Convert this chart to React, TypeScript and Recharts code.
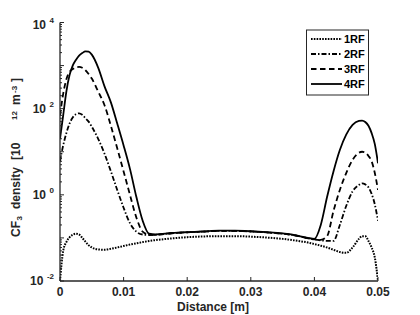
import React from 'react';
import { LineChart, Line, XAxis, YAxis } from 'recharts';

const distance = [
  0, 0.0005, 0.001, 0.0015, 0.002, 0.0025, 0.003, 0.0035, 0.004, 0.0045,
  0.005, 0.006, 0.007, 0.008, 0.009, 0.01, 0.011, 0.012, 0.013, 0.014,
  0.015, 0.0175, 0.02, 0.0225, 0.025, 0.0275, 0.03, 0.0325, 0.035, 0.0375,
  0.039, 0.04, 0.041, 0.042, 0.043, 0.044, 0.045, 0.046, 0.047, 0.0475,
  0.048, 0.0485, 0.049, 0.0495, 0.05,
];

const rf1 = [
  0.01, 0.05, 0.08, 0.103, 0.118, 0.125, 0.12, 0.1, 0.082, 0.068,
  0.06, 0.054, 0.053, 0.056, 0.06, 0.065, 0.07, 0.075, 0.08, 0.085,
  0.089, 0.097, 0.104, 0.108, 0.11, 0.11, 0.107, 0.102, 0.095, 0.085,
  0.078, 0.072, 0.066, 0.06, 0.053, 0.047, 0.045, 0.06, 0.095, 0.11,
  0.11, 0.085, 0.06, 0.035, 0.01,
];

const rf2 = [
  6, 14, 27, 45, 62, 74, 78, 72, 60, 50,
  38, 20, 9, 3.5, 1.3, 0.5, 0.22, 0.14, 0.12, 0.117,
  0.118, 0.128, 0.135, 0.14, 0.145, 0.145, 0.141, 0.134, 0.125, 0.11,
  0.098, 0.092, 0.088, 0.085, 0.085, 0.2, 0.55, 1.2, 1.7, 1.85,
  1.75, 1.5, 1.05, 0.6, 0.25,
];

const rf3 = [
  70, 220, 480, 710, 830, 910, 930, 890, 780, 640,
  500, 250, 120, 40, 12, 3.5, 1, 0.3, 0.14, 0.12,
  0.118, 0.128, 0.135, 0.14, 0.145, 0.145, 0.141, 0.134, 0.125, 0.11,
  0.098, 0.093, 0.09, 0.11, 0.42, 1.3, 3.2, 6.5, 9.5, 10,
  9.5, 8, 6, 3.2, 1.3,
];

const rf4 = [
  20, 70, 250, 600, 1000, 1350, 1700, 1950, 2130, 2100,
  1800, 900, 330, 140, 45, 14, 4, 0.9, 0.25, 0.125,
  0.12, 0.13, 0.137, 0.142, 0.147, 0.147, 0.143, 0.136, 0.127, 0.112,
  0.1, 0.095, 0.2, 0.9, 3.5, 11, 25, 42, 52, 53,
  49, 40, 27, 15, 5.4,
];

const seriesKeys = ['rf1', 'rf2', 'rf3', 'rf4'];
const seriesNames = ['1RF', '2RF', '3RF', '4RF'];
const xTicks = [0, 0.01, 0.02, 0.03, 0.04, 0.05];
const yDecades = [0.01, 0.1, 1, 10, 100, 1000, 10000];
const yLabelExps = [-2, 0, 2, 4];
const xTitle = 'Distance [m]';

const data = distance.map((d, i) => ({
  d,
  rf1: rf1[i],
  rf2: rf2[i],
  rf3: rf3[i],
  rf4: rf4[i],
}));

const yTicks: number[] = [];
yDecades.forEach((dec, i) => {
  yTicks.push(dec);
  if (i < yDecades.length - 1) {
    for (let m = 2; m <= 9; m++) yTicks.push(dec * m);
  }
});

const FONT = '"Liberation Sans", Arial, Helvetica, sans-serif';
const AXIS = '#262626';
const dashes = ['1.6 1.2', '5 2 1.5 2', '5.5 3.5', undefined];
const widths = [2, 1.8, 1.8, 1.8];

const isDecade = (v: number) => {
  const l = Math.log10(v);
  return Math.abs(l - Math.round(l)) < 1e-6;
};

const LeftTick = (props: any) => {
  const { x, y, payload } = props;
  const v = payload.value;
  const major = isDecade(v);
  const e = Math.round(Math.log10(v));
  const showLabel = major && yLabelExps.includes(e);
  const shift = e === 4 ? 2 : 0;
  return (
    <g>
      <line x1={x} x2={x + (major ? 4 : 2)} y1={y} y2={y} stroke={AXIS} strokeWidth={1} />
      {showLabel && (
        <text x={x - 6} y={y + 4 + shift} textAnchor="end" fontFamily={FONT} fontSize={12} fontWeight="bold" fill={AXIS}>
          10
          <tspan dx={3.5} dy={-6} fontSize={8}>{String(e)}</tspan>
        </text>
      )}
    </g>
  );
};

const RightTick = (props: any) => {
  const { x, y, payload } = props;
  const major = isDecade(payload.value);
  return <line x1={x} x2={x - (major ? 4 : 2)} y1={y} y2={y} stroke={AXIS} strokeWidth={1} />;
};

const BottomTick = (props: any) => {
  const { x, y, payload } = props;
  const v = payload.value;
  const label = v === 0 ? '0' : v.toFixed(2);
  return (
    <g>
      <line x1={x} x2={x} y1={y} y2={y - 4} stroke={AXIS} strokeWidth={1} />
      <text x={x} y={y + 15} textAnchor="middle" fontFamily={FONT} fontSize={12} fontWeight="bold" fill={AXIS}>
        {label}
      </text>
    </g>
  );
};

const TopTick = (props: any) => {
  const { x, y } = props;
  return <line x1={x} x2={x} y1={y} y2={y + 4} stroke={AXIS} strokeWidth={1} />;
};

export default function App() {
  return (
    <div style={{ position: 'relative', width: 412, height: 307 }}>
      <LineChart width={412} height={307} data={data} margin={{ top: 14.5, right: 42, bottom: 0, left: 0 }}>
        <XAxis
          dataKey="d"
          type="number"
          domain={[0, 0.05]}
          ticks={xTicks}
          interval={0}
          allowDataOverflow
          height={34}
          tickSize={0}
          tickMargin={0}
          tickLine={false}
          axisLine={{ stroke: AXIS, strokeWidth: 1.3 }}
          tick={<BottomTick />}
        />
        <XAxis
          xAxisId="top"
          orientation="top"
          dataKey="d"
          type="number"
          domain={[0, 0.05]}
          ticks={xTicks}
          interval={0}
          allowDataOverflow
          height={0}
          tickSize={0}
          tickMargin={0}
          tickLine={false}
          axisLine={{ stroke: AXIS, strokeWidth: 1.3 }}
          tick={<TopTick />}
        />
        <YAxis
          type="number"
          scale="log"
          domain={[0.01, 10000]}
          ticks={yTicks}
          interval={0}
          allowDataOverflow
          width={52}
          tickSize={0}
          tickMargin={0}
          tickLine={false}
          axisLine={{ stroke: AXIS, strokeWidth: 1.3 }}
          tick={<LeftTick />}
        />
        <YAxis
          yAxisId="right"
          orientation="right"
          type="number"
          scale="log"
          domain={[0.01, 10000]}
          ticks={yTicks}
          interval={0}
          allowDataOverflow
          width={0}
          tickSize={0}
          tickMargin={0}
          tickLine={false}
          axisLine={{ stroke: AXIS, strokeWidth: 1.3 }}
          tick={<RightTick />}
        />
        {seriesKeys.map((k, i) => (
          <Line
            key={k}
            dataKey={k}
            name={seriesNames[i]}
            type="monotone"
            stroke="#000"
            strokeWidth={widths[i]}
            strokeDasharray={dashes[i]}
            dot={false}
            activeDot={false}
            isAnimationActive={false}
          />
        ))}
      </LineChart>
      <svg
        width={412}
        height={307}
        style={{ position: 'absolute', left: 0, top: 0, pointerEvents: 'none' }}
      >
        <text x={205} y={303} textAnchor="middle" fontFamily={FONT} fontSize={12} fontWeight="bold" fill={AXIS}>
          {xTitle}
        </text>
        <text transform="rotate(-90)" fontFamily={FONT} fontSize={12} fontWeight="bold" fill={AXIS}>
          <tspan x={-229} y={11.5}>CF</tspan>
          <tspan x={-212.5} y={13.5} fontSize={8}>3</tspan>
          <tspan x={-201} y={11.5}>density</tspan>
          <tspan x={-152} y={11.5}>[10</tspan>
          <tspan x={-112} y={8.5} fontSize={8}>12</tspan>
          <tspan x={-97} y={11.5}>m</tspan>
          <tspan x={-85} y={8.5} fontSize={8}>-3</tspan>
          <tspan x={-74} y={11.5}>]</tspan>
        </text>
        <rect x={298.5} y={22} width={62} height={65} fill="#fff" stroke={AXIS} strokeWidth={1} />
        {seriesNames.map((n, i) => {
          const yy = 31 + i * 15;
          return (
            <g key={n}>
              <line x1={303} x2={334} y1={yy} y2={yy} stroke="#000" strokeWidth={widths[i]} strokeDasharray={dashes[i]} />
              <text x={336} y={yy + 4} fontFamily={FONT} fontSize={11} fontWeight="bold" fill="#000">
                {n}
              </text>
            </g>
          );
        })}
      </svg>
    </div>
  );
}
